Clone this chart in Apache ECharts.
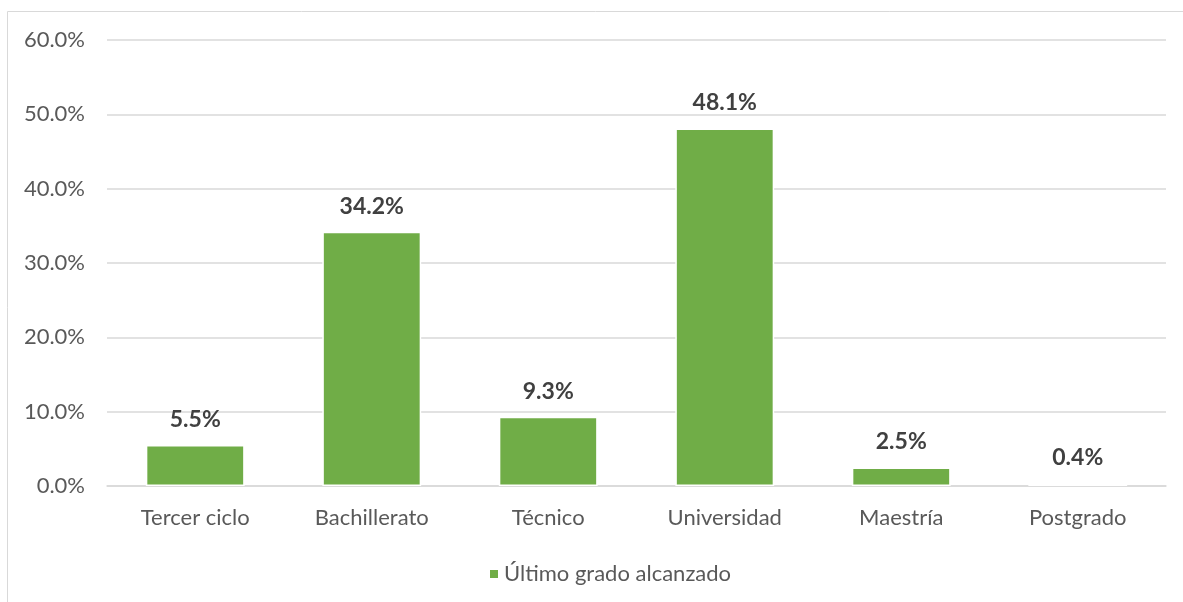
<!DOCTYPE html>
<html><head><meta charset="utf-8">
<script src="https://cdn.jsdelivr.net/npm/echarts@6/dist/echarts.min.js"></script>
<style>html,body{margin:0;padding:0;background:#fff}#c{width:1183px;height:602px}</style>
</head><body><div id="c"></div>
<script>
const categories = ['Tercer ciclo','Bachillerato','Técnico','Universidad','Maestría','Postgrado'];
const values = [5.5, 34.2, 9.3, 48.1, 2.5, 0.4];
const seriesName = 'Último grado alcanzado';
const yTicks = [0, 10, 20, 30, 40, 50, 60];

const FONT = 'Lato, "Open Sans", sans-serif';
const chart = echarts.init(document.getElementById('c'), null, {renderer:'canvas'});
chart.setOption({
  animation:false,
  graphic:[{type:'rect', shape:{x:7.5,y:11.5,width:1300,height:700}, style:{fill:'none',stroke:'#d9d9d9',lineWidth:1}, silent:true, z:-1}],
  grid:{left:107, right:17, top:40, bottom:116, containLabel:false},
  legend:{data:[seriesName], left:483, top:558, itemWidth:10, itemHeight:10, icon:'rect', itemGap:8,
    textStyle:{fontFamily:FONT, fontSize:22, color:'#595959'}},
  xAxis:{type:'category', data:categories,
    axisLine:{show:true, lineStyle:{color:'#d9d9d9', width:1.5}}, axisTick:{show:false},
    axisLabel:{fontFamily:FONT, fontSize:22, color:'#595959', margin:21}},
  yAxis:{type:'value', min:yTicks[0], max:yTicks[yTicks.length-1], interval:10,
    axisLine:{show:false}, axisTick:{show:false},
    splitLine:{lineStyle:{color:'#d9d9d9', width:1.5}},
    axisLabel:{fontFamily:FONT, fontSize:22, color:'#595959', margin:22, formatter:v=>v.toFixed(1)+'%'}},
  series:[{name:seriesName, type:'bar', data:values, barWidth:'56%',
    itemStyle:{color:'#70ad47', borderColor:'#ffffff', borderWidth:1.5},
    label:{show:true, position:'top', distance:14, fontFamily:FONT, fontSize:23, fontWeight:'bold', color:'#404040',
      formatter:p=>p.value.toFixed(1)+'%'}}]
});
</script></body></html>
